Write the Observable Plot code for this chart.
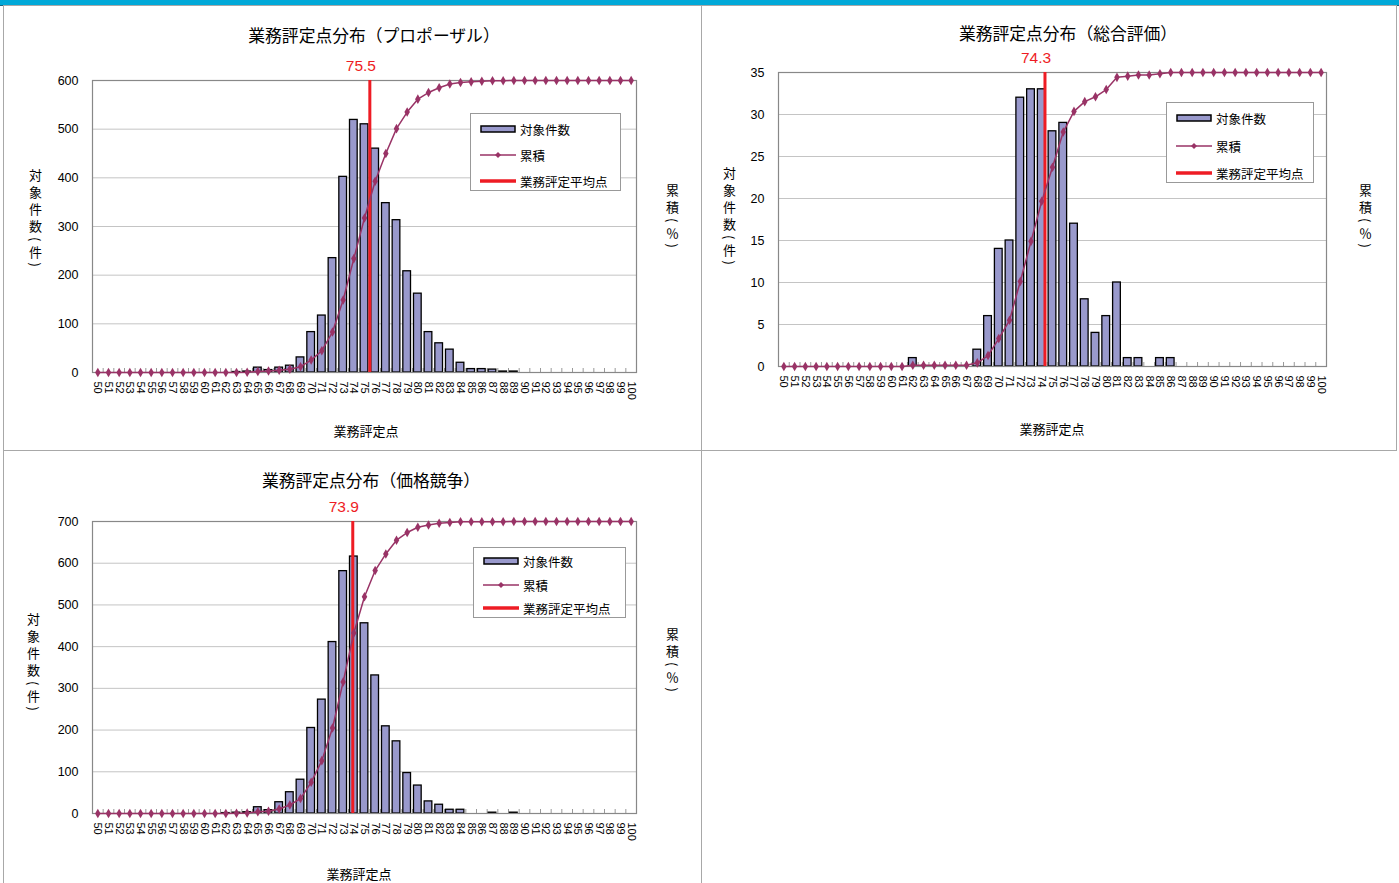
<!DOCTYPE html>
<html><head><meta charset="utf-8">
<script src="https://cdn.jsdelivr.net/npm/d3@7"></script>
<script src="https://cdn.jsdelivr.net/npm/@observablehq/plot@0.6"></script>
<style>
body{margin:0;width:1399px;height:883px;position:relative;background:#fff;overflow:hidden;font-family:"Liberation Sans","Noto Sans CJK JP",sans-serif;color:#000}
.abs{position:absolute}
.topbar{left:0;top:0;width:1399px;height:5px;background:#00a8d8;border-bottom:1px solid #1a6680}
.panel{border:1px solid #a8a8a8;box-sizing:border-box}
.title{font-family:"Noto Sans CJK JP",sans-serif;font-size:16.8px;line-height:20px;text-align:center;white-space:nowrap}
.vlab{font-family:"Noto Sans CJK JP",sans-serif;font-size:13px;writing-mode:vertical-rl;letter-spacing:4px;line-height:14px}
.xlab{font-family:"Noto Sans CJK JP",sans-serif;font-size:13px;text-align:center;white-space:nowrap}
.legend{background:#fff;border:1px solid #999;box-sizing:border-box;font-family:"Noto Sans CJK JP",sans-serif;font-size:12.5px}
.legend .row{position:absolute;left:0;height:16px;display:flex;align-items:center;white-space:nowrap}
.legend svg{margin-left:9px;margin-right:4px}
svg{overflow:visible}
</style></head>
<body>
<div class="abs topbar"></div>
<div class="abs panel" style="left:3px;top:5px;width:699px;height:446px"></div>
<div class="abs panel" style="left:701px;top:5px;width:696px;height:446px"></div>
<div class="abs panel" style="left:3px;top:450px;width:699px;height:440px"></div>
<div id="root"></div>
<script>
// categories (業務評定点)
const scores = [50,51,52,53,54,55,56,57,58,59,60,61,62,63,64,65,66,67,68,69,70,71,72,73,74,75,76,77,78,79,80,81,82,83,84,85,86,87,88,89,90,91,92,93,94,95,96,97,98,99,100];

// 対象件数 (プロポーザル)
const countsProposal = [0,0,0,0,0,0,0,0,0,0,0,0,0,1,2,10,5,10,14,31,83,117,235,402,519,510,460,348,313,208,162,83,60,47,20,7,7,6,2,2,0,0,0,0,0,0,0,0,0,0,0];
// 対象件数 (総合評価)
const countsSogo = [0,0,0,0,0,0,0,0,0,0,0,0,1,0,0,0,0,0,2,6,14,15,32,33,33,28,29,17,8,4,6,10,1,1,0,1,1,0,0,0,0,0,0,0,0,0,0,0,0,0,0];
// 対象件数 (価格競争)
const countsKakaku = [0,0,0,0,0,0,0,0,0,0,0,0,1,2,3,15,8,27,51,81,205,273,411,581,616,456,331,209,173,97,67,29,21,9,9,0,0,2,0,2,0,0,0,0,0,0,0,0,0,0,0];

// 業務評定平均点
const meanProposal = 75.5, meanSogo = 74.3, meanKakaku = 73.9;

// y axis ticks
const ticksProposal = [0,100,200,300,400,500,600];
const ticksSogo = [0,5,10,15,20,25,30,35];
const ticksKakaku = [0,100,200,300,400,500,600,700];

const titles = ["業務評定点分布（プロポーザル）","業務評定点分布（総合評価）","業務評定点分布（価格競争）"];
const legendLabels = ["対象件数","累積","業務評定平均点"];
const yLabel = "対象件数(件)";
const y2Label = "累積(％)";
const xLabel = "業務評定点";

const BAR = "#9999cc", CUM = "#993366", RED = "#ee1c24";
const root = document.getElementById("root");

function chart(counts, mean, ticks, w, h, m) {
  const yMax = ticks[ticks.length-1];
  const total = d3.sum(counts);
  const cum = Array.from(d3.cumsum(counts));
  const data = scores.map((s,i)=>({s, n: counts[i], c: cum[i]/total*yMax}));
  const bounds = scores.map(s=>s-0.5).concat([scores[scores.length-1]+0.5]);
  const plotH = h - m.t - m.b;
  return Plot.plot({
    width: w, height: h,
    marginLeft: m.l, marginRight: m.r, marginTop: m.t, marginBottom: m.b,
    style: {fontFamily: '"Liberation Sans","Noto Sans CJK JP",sans-serif', fontSize: "12px", color: "#000", background: "transparent", overflow: "visible"},
    x: {domain: [scores[0]-0.5, scores[scores.length-1]+0.5], axis: null},
    y: {domain: [0, yMax], axis: null},
    marks: [
      Plot.gridY(ticks.slice(1), {stroke: "#c4c4c4", strokeOpacity: 1}),
      Plot.axisY(ticks, {tickSize: 0, tickPadding: 14, label: null, fontSize: 12.5}),
      Plot.axisX(scores, {tickRotate: 90, tickSize: 0, tickPadding: 9, label: null, fontSize: 11}),
      Plot.ruleX(bounds, {y1: 0, y2: yMax*4/plotH, stroke: "#999"}),
      Plot.rectY(data.filter(d=>d.n>0), {x1: d=>d.s-0.36, x2: d=>d.s+0.36, y: "n", fill: BAR, stroke: "#000", strokeWidth: 1.3}),
      Plot.frame({stroke: "#888", strokeWidth: 1.2}),
      Plot.ruleX([mean], {stroke: RED, strokeWidth: 3}),
      Plot.line(data, {x: "s", y: "c", stroke: CUM, strokeWidth: 1.5}),
      Plot.dot(data, {x: "s", y: "c", symbol: "diamond", r: 2.9, fill: CUM}),
      Plot.text([mean], {x: d=>d, y: yMax, dy: -14, dx: -9, text: d=>d.toFixed(1), fill: RED, fontSize: 15.5})
    ]
  });
}

function place(el, left, top) {
  el.style.position = "absolute"; el.style.left = left+"px"; el.style.top = top+"px";
  root.appendChild(el);
}
function div(cls, html, style) {
  const d = document.createElement("div");
  d.className = "abs " + cls; d.innerHTML = html; d.setAttribute("style", style);
  root.appendChild(d); return d;
}
function legend(left, top, w, h, rows) {
  const sw = [
    `<svg width="36" height="10"><rect x="1" y="2" width="34" height="6" fill="${BAR}" stroke="#000" stroke-width="1.5"/></svg>`,
    `<svg width="36" height="10"><line x1="0" y1="5" x2="36" y2="5" stroke="${CUM}" stroke-width="1.5"/><path d="M18,2 L21,5 L18,8 L15,5 Z" fill="${CUM}"/></svg>`,
    `<svg width="36" height="10"><line x1="0" y1="5" x2="36" y2="5" stroke="${RED}" stroke-width="3.5"/></svg>`
  ];
  const html = legendLabels.map((t,i)=>`<div class="row" style="top:${rows[i]-8}px">${sw[i]}<span>${t}</span></div>`).join("");
  div("legend", html, `left:${left}px;top:${top}px;width:${w}px;height:${h}px`);
}

// Chart 1
place(chart(countsProposal, meanProposal, ticksProposal, 700, 450, {l:92, r:64, t:80, b:78}), 0, 0);
div("title", titles[0], "left:124px;top:25px;width:500px");
div("vlab", yLabel, "left:28px;top:169px");
div("vlab", y2Label, "left:665px;top:184px");
div("xlab", xLabel, "left:266px;top:421px;width:200px");
legend(470, 113, 151, 78, [15, 41, 67]);

// Chart 2
place(chart(countsSogo, meanSogo, ticksSogo, 699, 450, {l:78, r:73, t:72, b:84}), 700, 0);
div("title", titles[1], "left:818px;top:23px;width:500px");
div("vlab", yLabel, "left:722px;top:167px");
div("vlab", y2Label, "left:1358px;top:184px");
div("xlab", xLabel, "left:952px;top:419px;width:200px");
legend(1166, 102, 148, 81, [15, 43, 70]);

// Chart 3
place(chart(countsKakaku, meanKakaku, ticksKakaku, 700, 433, {l:92, r:64, t:71, b:70}), 0, 450);
div("title", titles[2], "left:121px;top:470px;width:500px");
div("vlab", yLabel, "left:26px;top:613px");
div("vlab", y2Label, "left:665px;top:628px");
div("xlab", xLabel, "left:259px;top:864px;width:200px");
legend(473, 547, 153, 71, [13, 37, 60]);
</script>
</body></html>
